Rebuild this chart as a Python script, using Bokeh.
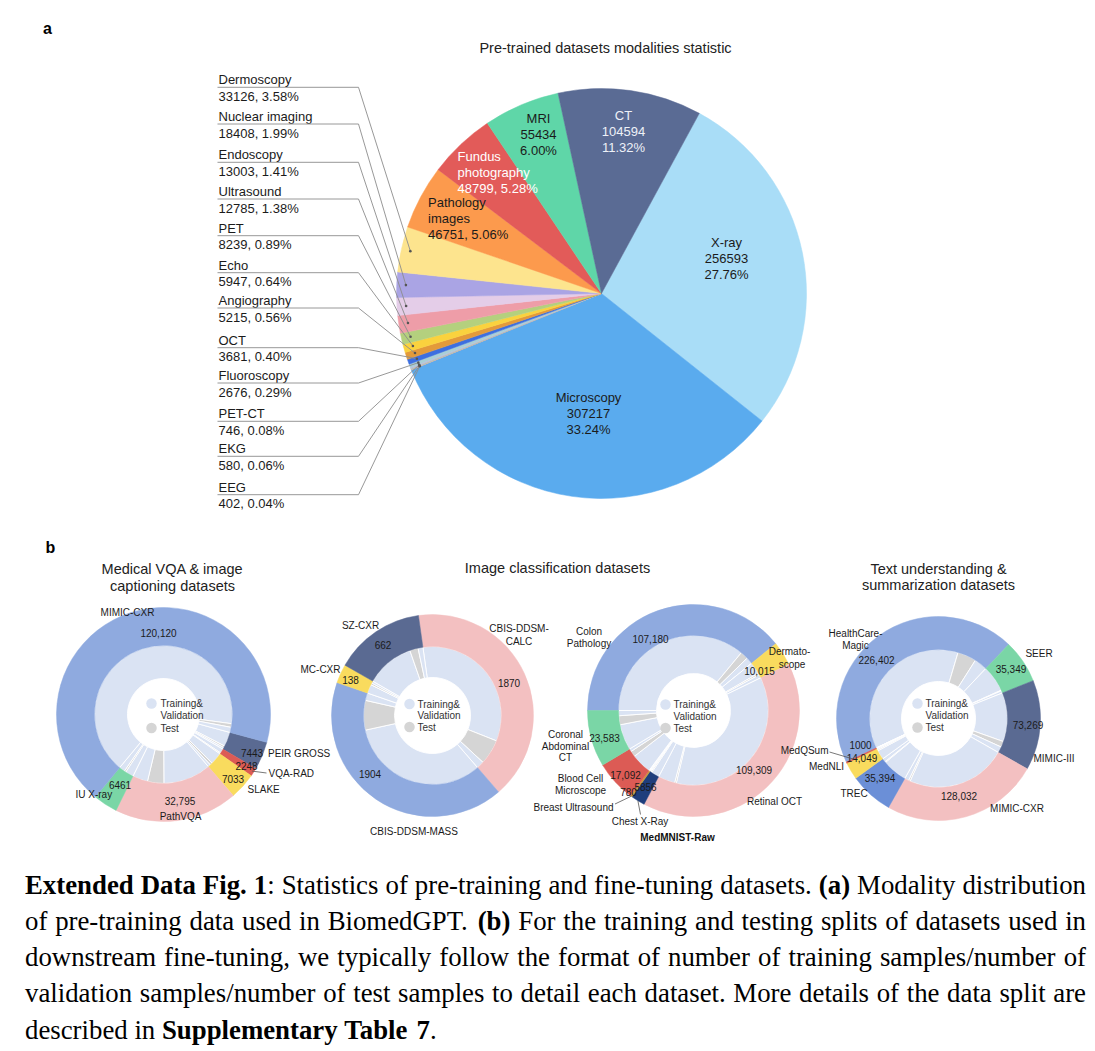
import math
from bokeh.plotting import figure
from bokeh.models import Range1d
from bokeh.core.properties import value
from bokeh.embed import file_html
from bokeh.resources import INLINE

# ---------------- panel a data ----------------
pie_names = ["X-ray", "Microscopy", "EEG", "EKG", "PET-CT", "Fluoroscopy", "OCT",
             "Angiography", "Echo", "PET", "Ultrasound", "Endoscopy",
             "Nuclear imaging", "Dermoscopy", "Pathology images",
             "Fundus photography", "MRI", "CT"]
pie_counts = [256593, 307217, 402, 580, 746, 2676, 3681, 5215, 5947, 8239, 12785,
              13003, 18408, 33126, 46751, 48799, 55434, 104594]
pie_pcts = ["27.76%", "33.24%", "0.04%", "0.06%", "0.08%", "0.29%", "0.40%", "0.56%",
            "0.64%", "0.89%", "1.38%", "1.41%", "1.99%", "3.58%", "5.06%", "5.28%",
            "6.00%", "11.32%"]
pie_colors = ["#A9DDF7", "#5AABEE", "#E8A6A6", "#A6CFA8", "#C4B4DC", "#A9CFD6", "#3D6FE0",
              "#E39A3A", "#FAD23E", "#B4D07E", "#EE9DA8", "#E4CDE8", "#AAA4E4", "#FDE48E",
              "#FC9A4D", "#E25B59", "#5FD6A8", "#5A6B94"]
left_label_names = ["Dermoscopy", "Nuclear imaging", "Endoscopy", "Ultrasound", "PET", "Echo",
                    "Angiography", "OCT", "Fluoroscopy", "PET-CT", "EKG", "EEG"]

# ---------------- panel b data ----------------
vqa_names = ["PEIR GROSS", "VQA-RAD", "SLAKE", "PathVQA", "IU X-ray", "MIMIC-CXR"]
vqa_totals = [7443, 2248, 7033, 32795, 6461, 120120]
vqa_train = [5967, 1797, 4919, 19755, 3400, 116500]
vqa_test = [745, 451, 1061, 6761, 700, 1500]
vqa_val = [731, 0, 1053, 6279, 2361, 2120]
vqa_colors = ["#5A6A92", "#DC5B55", "#F9DB5E", "#F3C0C1", "#7AD6A6", "#8FAADF"]

cls_names = ["CBIS-DDSM-CALC", "CBIS-DDSM-MASS", "MC-CXR", "SZ-CXR"]
cls_totals = [1870, 1904, 138, 662]
cls_train = [1520, 1506, 96, 520]
cls_test = [270, 318, 20, 90]
cls_val = [80, 80, 22, 52]
cls_colors = ["#F3C0C1", "#8FAADF", "#F9DB5E", "#5A6A92"]

mnist_names = ["Colon Pathology", "Dermatoscope", "Retinal OCT", "Chest X-Ray",
               "Breast Ultrasound", "Blood Cell Microscope", "Coronal Abdominal CT"]
mnist_totals = [107180, 10015, 109309, 5856, 780, 17092, 23583]
mnist_train = [98600, 7000, 98309, 4700, 546, 11959, 15200]
mnist_test = [4600, 1000, 1000, 624, 156, 3421, 5330]
mnist_val = [3980, 2015, 10000, 532, 78, 1712, 3053]
mnist_colors = ["#8FAADF", "#F9DB5E", "#F3C0C1", "#1F3E7C", "#C99A3A", "#DC5B55", "#7AD6A6"]

text_names = ["HealthCareMagic", "SEER", "MIMIC-III", "MIMIC-CXR", "TREC", "MedNLI", "MedQSum"]
text_totals = [226402, 35349, 73269, 128032, 35394, 14049, 1000]
text_train = [188000, 31800, 59000, 121000, 30000, 11232, 900]
text_test = [22600, 700, 7000, 2000, 1000, 1422, 100]
text_val = [15802, 2849, 7269, 5032, 4394, 1395, 0]
text_colors = ["#8FAADF", "#7AD6A6", "#5A6A92", "#F3C0C1", "#6B8FD7", "#F9DB5E", "#DC5B55"]

legend_labels = ["Training&", "Validation", "Test"]

caption_lines = [
    [("Extended Data Fig. 1", True), (": Statistics of pre-training and fine-tuning datasets. ", False),
     ("(a)", True), (" Modality distribution", False)],
    [("of pre-training data used in BiomedGPT. ", False), ("(b)", True),
     (" For the training and testing splits of datasets used in", False)],
    [("downstream fine-tuning, we typically follow the format of number of training samples/number of", False)],
    [("validation samples/number of test samples to detail each dataset. More details of the data split are", False)],
    [("described in ", False), ("Supplementary Table 7", True), (".", False)],
]

# ---------------- figure ----------------
W, H = 1094, 1050
X0, Y0 = 0, 0


def Y(py):
    return Y0 + H - py


p = figure(width=W, height=H, x_range=Range1d(X0, X0 + W), y_range=Range1d(0, H),
           output_backend="svg", toolbar_location=None, min_border=0,
           x_axis_location=None, y_axis_location=None)
p.grid.visible = False
p.outline_line_color = None
p.background_fill_color = "white"
p.border_fill_color = "white"

SANS = "Liberation Sans"
SERIF = "Liberation Serif"
DARK = "#1b1b1b"


def txt(xs, ys, texts, size, align="center", color=DARK, style="normal", font=SANS):
    p.text(x=list(xs), y=[Y(v) for v in ys], text=list(texts), text_font=value(font),
           text_font_size=value(f"{size}px"), text_align=align, text_baseline="middle",
           text_color=color, text_font_style=style)


def rad(d):
    return math.radians(d)


def polar(cx, cy, r, theta):
    # theta: degrees clockwise from 12 o'clock; returns page coords
    return cx + r * math.sin(rad(theta)), cy - r * math.cos(rad(theta))


# ---------------- panel labels & titles ----------------
txt([47], [28], ["a"], 16, style="bold", color="#000")
txt([50], [547], ["b"], 16, style="bold", color="#000")
txt([605], [47], ["Pre-trained datasets modalities statistic"], 14.5, color="#222")
txt([172, 172], [568, 585], ["Medical VQA & image", "captioning datasets"], 14.5, color="#222")
txt([557], [567], ["Image classification datasets"], 14.5, color="#222")
txt([938, 938], [568, 584.5], ["Text understanding &", "summarization datasets"], 14.5, color="#222")

# ---------------- pie (panel a) ----------------
PCX, PCY, PR = 601, 293, 205
PIE_START = 28.5
ptot = float(sum(pie_counts))
theta = {}
t = PIE_START
starts, ends = [], []
for nm, c in zip(pie_names, pie_counts):
    span = 360.0 * c / ptot
    theta[nm] = (t, t + span)
    starts.append(rad(90 - (t + span)))
    ends.append(rad(90 - t))
    t += span
p.wedge(x=PCX, y=Y(PCY), radius=PR, start_angle=starts, end_angle=ends,
        fill_color=pie_colors, line_color=pie_colors, line_width=0.5)

cnt = dict(zip(pie_names, pie_counts))
pct = dict(zip(pie_names, pie_pcts))

# labels inside the pie
inside = [
    ("X-ray", ["X-ray", str(cnt["X-ray"]), pct["X-ray"]], 726, 242, "center", DARK),
    ("Microscopy", ["Microscopy", str(cnt["Microscopy"]), pct["Microscopy"]], 588, 397, "center", DARK),
    ("CT", ["CT", str(cnt["CT"]), pct["CT"]], 623, 115, "center", "#EEF1F8"),
    ("MRI", ["MRI", str(cnt["MRI"]), pct["MRI"]], 538, 117.5, "center", DARK),
    ("Fundus photography", ["Fundus", "photography", f'{cnt["Fundus photography"]}, {pct["Fundus photography"]}'],
     457, 156, "left", "#FFFFFF"),
    ("Pathology images", ["Pathology", "images", f'{cnt["Pathology images"]}, {pct["Pathology images"]}'],
     427.5, 202, "left", DARK),
]
for nm, lines, lx, ly, al, col in inside:
    txt([lx] * 3, [ly + i * 16.2 for i in range(3)], lines, 13, align=al, color=col)

# outside labels with leaders
name_y = [79.3, 116, 154.3, 191, 227.7, 264.7, 300, 339.7, 375, 413.3, 448.3, 486.7]
lx_text, lx_end = 218, 358
lead_xs, lead_ys, dot_x, dot_y = [], [], [], []
for nm, ny in zip(left_label_names, name_y):
    t0, t1 = theta[nm]
    px, py = polar(PCX, PCY, PR * 0.955, (t0 + t1) / 2)
    uy = ny + 7.5
    lead_xs.append([lx_text - 1, lx_end, px])
    lead_ys.append([Y(uy), Y(uy), Y(py)])
    dot_x.append(px)
    dot_y.append(Y(py))
    txt([lx_text], [ny], [nm], 13, align="left")
    txt([lx_text], [ny + 16.5], [f"{cnt[nm]}, {pct[nm]}"], 13, align="left")
p.multi_line(xs=lead_xs, ys=lead_ys, line_color="#8C8C8C", line_width=0.9)
p.scatter(x=dot_x, y=dot_y, size=2.6, marker="circle", fill_color="#555555", line_color=None)

# ---------------- donuts (panel b) ----------------
LB = "#DAE3F3"
GR = "#D5D5D5"


def donut(cx, cy, R, r1, r0, start, totals, train, test, val, colors):
    tot = float(sum(totals))
    # inner ring: train, test, val per dataset
    s_in, e_in, c_in = [], [], []
    t = start
    for a, b, c in zip(train, test, val):
        for v, col in ((a, LB), (b, GR), (c, LB)):
            if v > 0:
                span = 360.0 * v / tot
                s_in.append(rad(90 - (t + span)))
                e_in.append(rad(90 - t))
                c_in.append(col)
                t += span
    p.annular_wedge(x=cx, y=Y(cy), inner_radius=r0, outer_radius=r1,
                    start_angle=s_in, end_angle=e_in, fill_color=c_in,
                    line_color="white", line_width=0.9)
    # outer ring
    s_out, e_out, mids = [], [], []
    t = start
    for v in totals:
        span = 360.0 * v / tot
        s_out.append(rad(90 - (t + span)))
        e_out.append(rad(90 - t))
        mids.append(t + span / 2)
        t += span
    p.annular_wedge(x=cx, y=Y(cy), inner_radius=r1, outer_radius=R,
                    start_angle=s_out, end_angle=e_out, fill_color=colors,
                    line_color=colors, line_width=0.5)
    return mids


def legend(dx, tx, rows):
    p.scatter(x=[dx, dx], y=[Y(rows[0]), Y(rows[2])], size=10.5, marker="circle",
              fill_color=[LB, GR], line_color=None)
    txt([tx] * 3, rows, legend_labels, 10, align="left", color="#333333")


# donut 1: VQA
V_CX, V_CY, V_R = 163, 714, 107
vmids = donut(V_CX, V_CY, V_R, 69, 36, 105.1, vqa_totals, vqa_train, vqa_test, vqa_val, vqa_colors)
legend(151, 160, [703, 715, 727.5])
txt([127, 158], [612, 632], ["MIMIC-CXR", f"{vqa_totals[5]:,}"], 10)
txt([251.5, 246, 232.5, 119.5, 179.5], [752.5, 765, 778.5, 784.5, 800.5],
    [str(vqa_totals[0]), str(vqa_totals[1]), str(vqa_totals[2]), str(vqa_totals[4]), f"{vqa_totals[3]:,}"], 10)
txt([267.5, 268, 247, 75], [752.5, 773, 788.5, 793.5], ["PEIR GROSS", "VQA-RAD", "SLAKE", "IU X-ray"], 10, align="left")
txt([180], [816], ["PathVQA"], 10)
qx, qy = polar(V_CX, V_CY, V_R - 2, vmids[1])
p.line(x=[qx, 266], y=[Y(qy), Y(772.5)], line_color="#555555", line_width=0.8)

# donut 2: classification
C_CX, C_CY, C_R = 432, 715, 101
donut(C_CX, C_CY, C_R, 69, 38, -8.0, cls_totals, cls_train, cls_test, cls_val, cls_colors)
legend(409, 417, [703.5, 715, 726.5])
txt([360, 382.5, 350, 518.5, 518.5, 508.5, 369.5, 413.5],
    [625, 644, 679.5, 627.5, 641, 682, 773.5, 830.5],
    ["SZ-CXR", str(cls_totals[3]), str(cls_totals[2]), "CBIS-DDSM-", "CALC",
     str(cls_totals[0]), str(cls_totals[1]), "CBIS-DDSM-MASS"], 10)
txt([340], [669], ["MC-CXR"], 10, align="right")

# donut 3: MedMNIST-Raw
M_CX, M_CY, M_R = 693, 710, 106
mmids = donut(M_CX, M_CY, M_R, 75, 37, 270.0, mnist_totals, mnist_train, mnist_test, mnist_val, mnist_colors)
legend(665, 673, [704, 716, 727.5])
txt([588.5, 588.5, 789, 791.5, 565, 565, 565, 580, 580, 639.5, 774],
    [631, 643, 651, 663.5, 734, 745.5, 757, 777.5, 790, 820.5, 801],
    ["Colon", "Pathology", "Dermato-", "scope", "Coronal", "Abdominal", "CT",
     "Blood Cell", "Microscope", "Chest X-Ray", "Retinal OCT"], 10)
txt([650, 759, 604, 625, 628, 645, 753.5], [638.5, 670, 737.5, 774.5, 791, 786, 769.5],
    [f"{mnist_totals[0]:,}", f"{mnist_totals[1]:,}", f"{mnist_totals[6]:,}", f"{mnist_totals[5]:,}",
     str(mnist_totals[4]), str(mnist_totals[3]), f"{mnist_totals[2]:,}"], 10)
txt([613], [806.5], ["Breast Ultrasound"], 10, align="right")
txt([677], [837], ["MedMNIST-Raw"], 10, style="bold", color="#111111")
bx, by = polar(M_CX, M_CY, M_R, mmids[4])
cx2, cy2 = polar(M_CX, M_CY, M_R, mmids[3])
p.multi_line(xs=[[614.5, bx], [640, cx2]], ys=[[Y(803.5), Y(by)], [Y(814), Y(cy2)]],
             line_color="#555555", line_width=0.8)

# donut 4: text
T_CX, T_CY, T_R = 938, 718, 102
tmids = donut(T_CX, T_CY, T_R, 69, 37, 244.7, text_totals, text_train, text_test, text_val, text_colors)
legend(917, 925, [703, 715, 727])
txt([855, 855, 1038.5, 1053.5, 1016.5, 853.5, 826],
    [632.5, 645, 652.5, 758, 808, 792.5, 766],
    ["HealthCare-", "Magic", "SEER", "MIMIC-III", "MIMIC-CXR", "TREC", "MedNLI"], 10)
txt([876, 1010.5, 1027.5, 958.5, 879.5, 860, 861.5],
    [659, 668, 724.5, 795.5, 777.5, 744.5, 757],
    [f"{text_totals[0]:,}", f"{text_totals[1]:,}", f"{text_totals[2]:,}", f"{text_totals[3]:,}",
     f"{text_totals[4]:,}", str(text_totals[6]), f"{text_totals[5]:,}"], 10)
txt([828], [750], ["MedQSum"], 10, align="right")
mqx, mqy = polar(T_CX, T_CY, T_R - 8, tmids[6])
p.line(x=[829, mqx], y=[Y(751.5), Y(mqy)], line_color="#555555", line_width=0.8)

# ---------------- caption (justified Times) ----------------
TR = {' ': 250, '(': 333, ')': 333, ',': 250, '-': 333, '.': 250, '/': 278, ':': 278,
      '0': 500, '1': 500, '2': 500, '3': 500, '4': 500, '5': 500, '6': 500, '7': 500, '8': 500, '9': 500,
      'A': 722, 'B': 667, 'C': 667, 'D': 722, 'E': 611, 'F': 556, 'G': 722, 'H': 722, 'I': 333,
      'J': 389, 'K': 722, 'L': 611, 'M': 889, 'N': 722, 'O': 722, 'P': 556, 'Q': 722, 'R': 667,
      'S': 556, 'T': 611, 'U': 722, 'V': 722, 'W': 944, 'X': 722, 'Y': 722, 'Z': 611,
      'a': 444, 'b': 500, 'c': 444, 'd': 500, 'e': 444, 'f': 333, 'g': 500, 'h': 500, 'i': 278,
      'j': 278, 'k': 500, 'l': 278, 'm': 778, 'n': 500, 'o': 500, 'p': 500, 'q': 500, 'r': 333,
      's': 389, 't': 278, 'u': 500, 'v': 500, 'w': 722, 'x': 500, 'y': 500, 'z': 444}
TB = {' ': 250, '(': 333, ')': 333, ',': 250, '-': 333, '.': 250, '/': 278, ':': 333,
      '0': 500, '1': 500, '2': 500, '3': 500, '4': 500, '5': 500, '6': 500, '7': 500, '8': 500, '9': 500,
      'A': 722, 'B': 667, 'C': 722, 'D': 722, 'E': 667, 'F': 611, 'G': 778, 'H': 778, 'I': 389,
      'J': 500, 'K': 778, 'L': 667, 'M': 944, 'N': 722, 'O': 778, 'P': 611, 'Q': 778, 'R': 722,
      'S': 556, 'T': 667, 'U': 722, 'V': 722, 'W': 1000, 'X': 722, 'Y': 722, 'Z': 667,
      'a': 500, 'b': 556, 'c': 444, 'd': 556, 'e': 444, 'f': 333, 'g': 500, 'h': 556, 'i': 278,
      'j': 333, 'k': 556, 'l': 278, 'm': 833, 'n': 556, 'o': 500, 'p': 556, 'q': 556, 'r': 444,
      's': 389, 't': 333, 'u': 556, 'v': 500, 'w': 722, 'x': 500, 'y': 500, 'z': 444}
FS = 26.8
CAP_L, CAP_R = 24.5, 1085.5
cap_y = [884, 920.5, 956.5, 992.5, 1029]


def width(s, bold):
    tb = TB if bold else TR
    return sum(tb.get(ch, 500) for ch in s) / 1000.0 * FS


def tokenize(runs):
    words = [[]]
    for s, bold in runs:
        parts = s.split(" ")
        for i, part in enumerate(parts):
            if i > 0:
                words.append([])
            if part:
                words[-1].append((part, bold))
    return [w for w in words if w]


norm = {"x": [], "y": [], "t": []}
bold = {"x": [], "y": [], "t": []}
for li, runs in enumerate(caption_lines):
    words = tokenize(runs)
    wws = [sum(width(s, b) for s, b in w) for w in words]
    last = li == len(caption_lines) - 1
    gap = 0.25 * FS if last else (CAP_R - CAP_L - sum(wws)) / max(1, len(words) - 1)
    x = CAP_L
    for w, ww in zip(words, wws):
        xx = x
        for s, b in w:
            d = bold if b else norm
            d["x"].append(xx)
            d["y"].append(cap_y[li])
            d["t"].append(s)
            xx += width(s, b)
        x += ww + gap

txt(norm["x"], norm["y"], norm["t"], FS, align="left", color="#000000", font=SERIF)
txt(bold["x"], bold["y"], bold["t"], FS, align="left", color="#000000", font=SERIF, style="bold")

open("out.html", "w").write(file_html(p, INLINE))
